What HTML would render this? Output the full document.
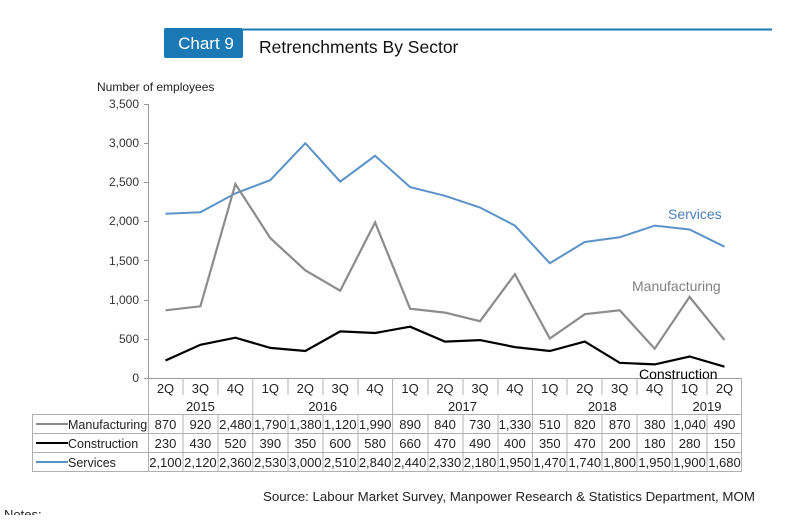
<!DOCTYPE html>
<html><head><style>
body{margin:0;background:#fff;width:800px;height:515px;overflow:hidden}
svg{font-family:"Liberation Sans",Arial,sans-serif}
</style></head><body>
<svg width="800" height="515" viewBox="0 0 800 515" xmlns="http://www.w3.org/2000/svg">
<line x1="243" y1="29.5" x2="772" y2="29.5" stroke="#1a78b4" stroke-width="2"/>
<rect x="164" y="28" width="79" height="30" rx="2" fill="#1a78b4"/>
<text x="206" y="49" font-size="17" fill="#fff" text-anchor="middle">Chart 9</text>
<text x="259" y="53" font-size="17.5" fill="#111">Retrenchments By Sector</text>
<text x="97" y="91" font-size="12" fill="#222">Number of employees</text>
<g font-size="12" fill="#333" text-anchor="end">
<text x="139" y="108">3,500</text><text x="139" y="147">3,000</text><text x="139" y="186">2,500</text>
<text x="139" y="225">2,000</text><text x="139" y="265">1,500</text><text x="139" y="304">1,000</text>
<text x="139" y="343">500</text><text x="139" y="382">0</text>
</g>
<g stroke="#999" stroke-width="1">
<line x1="148.5" y1="104" x2="148.5" y2="379"/>
<line x1="144" y1="104.5" x2="148" y2="104.5"/><line x1="144" y1="143.5" x2="148" y2="143.5"/>
<line x1="144" y1="182.5" x2="148" y2="182.5"/><line x1="144" y1="221.5" x2="148" y2="221.5"/>
<line x1="144" y1="260.5" x2="148" y2="260.5"/><line x1="144" y1="300.5" x2="148" y2="300.5"/>
<line x1="144" y1="339.5" x2="148" y2="339.5"/><line x1="144" y1="378.5" x2="742" y2="378.5"/>
</g>
<polyline fill="none" stroke="#5b93c9" stroke-width="2" points="165.5,213.8 200.4,212.2 235.4,193.4 270.3,180.1 305.3,143.2 340.2,181.6 375.1,155.8 410.1,187.1 445,195.8 480,207.5 514.9,225.6 549.8,263.2 584.8,242 619.7,237.3 654.7,225.6 689.6,229.5 724.5,246.7"/>
<polyline fill="none" stroke="#8c8c8c" stroke-width="2.2" points="165.5,310.3 200.4,306.3 235.4,184 270.3,238.1 305.3,270.3 340.2,290.7 375.1,222.4 410.1,308.7 445,312.6 480,321.2 514.9,274.2 549.8,338.5 584.8,314.2 619.7,310.3 654.7,348.7 689.6,296.9 724.5,340.1"/>
<polyline fill="none" stroke="#000" stroke-width="2.2" points="165.5,360.5 200.4,344.8 235.4,337.7 270.3,347.9 305.3,351 340.2,331.4 375.1,333 410.1,326.7 445,341.6 480,340.1 514.9,347.1 549.8,351 584.8,341.6 619.7,362.8 654.7,364.4 689.6,356.5 724.5,366.7"/>
<text x="668" y="219" font-size="14" fill="#4a7ebb">Services</text>
<text x="632" y="291" font-size="14" fill="#808080">Manufacturing</text>
<text x="639" y="379" font-size="14" fill="#000">Construction</text>
<g stroke="#b0b0b0" stroke-width="1" fill="none">
<rect x="32.5" y="414.5" width="709" height="57"/>
<line x1="32" y1="433.5" x2="742" y2="433.5"/><line x1="32" y1="452.5" x2="742" y2="452.5"/>
<line x1="148.5" y1="378" x2="148.5" y2="471"/>
<line x1="741.5" y1="378" x2="741.5" y2="471"/>
<line x1="252.8" y1="378" x2="252.8" y2="471"/><line x1="392.6" y1="378" x2="392.6" y2="471"/>
<line x1="532.4" y1="378" x2="532.4" y2="471"/><line x1="672.2" y1="378" x2="672.2" y2="471"/>
<line x1="183" y1="378" x2="183" y2="395"/><line x1="218" y1="378" x2="218" y2="395"/>
<line x1="288" y1="378" x2="288" y2="395"/><line x1="323" y1="378" x2="323" y2="395"/><line x1="358" y1="378" x2="358" y2="395"/>
<line x1="428" y1="378" x2="428" y2="395"/><line x1="463" y1="378" x2="463" y2="395"/><line x1="498" y1="378" x2="498" y2="395"/>
<line x1="567" y1="378" x2="567" y2="395"/><line x1="602" y1="378" x2="602" y2="395"/><line x1="637" y1="378" x2="637" y2="395"/>
<line x1="707" y1="378" x2="707" y2="395"/>
<line x1="183" y1="414" x2="183" y2="471"/><line x1="218" y1="414" x2="218" y2="471"/>
<line x1="288" y1="414" x2="288" y2="471"/><line x1="323" y1="414" x2="323" y2="471"/><line x1="358" y1="414" x2="358" y2="471"/>
<line x1="428" y1="414" x2="428" y2="471"/><line x1="463" y1="414" x2="463" y2="471"/><line x1="498" y1="414" x2="498" y2="471"/>
<line x1="567" y1="414" x2="567" y2="471"/><line x1="602" y1="414" x2="602" y2="471"/><line x1="637" y1="414" x2="637" y2="471"/>
<line x1="707" y1="414" x2="707" y2="471"/>
</g>
<g font-size="13" fill="#222" text-anchor="middle">
<text x="165.5" y="393">2Q</text><text x="200.4" y="393">3Q</text><text x="235.4" y="393">4Q</text>
<text x="270.3" y="393">1Q</text><text x="305.3" y="393">2Q</text><text x="340.2" y="393">3Q</text><text x="375.1" y="393">4Q</text>
<text x="410.1" y="393">1Q</text><text x="445" y="393">2Q</text><text x="480" y="393">3Q</text><text x="514.9" y="393">4Q</text>
<text x="549.8" y="393">1Q</text><text x="584.8" y="393">2Q</text><text x="619.7" y="393">3Q</text><text x="654.7" y="393">4Q</text>
<text x="689.6" y="393">1Q</text><text x="724.5" y="393">2Q</text>
<text x="200.4" y="411">2015</text><text x="322.7" y="411">2016</text><text x="462.5" y="411">2017</text>
<text x="602.3" y="411">2018</text><text x="707" y="411">2019</text>
<g>
<text x="165.5" y="429">870</text><text x="200.4" y="429">920</text><text x="235.4" y="429">2,480</text><text x="270.3" y="429">1,790</text><text x="305.3" y="429">1,380</text><text x="340.2" y="429">1,120</text><text x="375.1" y="429">1,990</text><text x="410.1" y="429">890</text><text x="445" y="429">840</text><text x="480" y="429">730</text><text x="514.9" y="429">1,330</text><text x="549.8" y="429">510</text><text x="584.8" y="429">820</text><text x="619.7" y="429">870</text><text x="654.7" y="429">380</text><text x="689.6" y="429">1,040</text><text x="724.5" y="429">490</text>
</g>
<g>
<text x="165.5" y="448">230</text><text x="200.4" y="448">430</text><text x="235.4" y="448">520</text><text x="270.3" y="448">390</text><text x="305.3" y="448">350</text><text x="340.2" y="448">600</text><text x="375.1" y="448">580</text><text x="410.1" y="448">660</text><text x="445" y="448">470</text><text x="480" y="448">490</text><text x="514.9" y="448">400</text><text x="549.8" y="448">350</text><text x="584.8" y="448">470</text><text x="619.7" y="448">200</text><text x="654.7" y="448">180</text><text x="689.6" y="448">280</text><text x="724.5" y="448">150</text>
</g>
<g>
<text x="165.5" y="467">2,100</text><text x="200.4" y="467">2,120</text><text x="235.4" y="467">2,360</text><text x="270.3" y="467">2,530</text><text x="305.3" y="467">3,000</text><text x="340.2" y="467">2,510</text><text x="375.1" y="467">2,840</text><text x="410.1" y="467">2,440</text><text x="445" y="467">2,330</text><text x="480" y="467">2,180</text><text x="514.9" y="467">1,950</text><text x="549.8" y="467">1,470</text><text x="584.8" y="467">1,740</text><text x="619.7" y="467">1,800</text><text x="654.7" y="467">1,950</text><text x="689.6" y="467">1,900</text><text x="724.5" y="467">1,680</text>
</g>
</g>
<line x1="36" y1="424" x2="68" y2="424" stroke="#8c8c8c" stroke-width="2"/>
<line x1="36" y1="443" x2="68" y2="443" stroke="#000" stroke-width="2"/>
<line x1="36" y1="462" x2="68" y2="462" stroke="#5b93c9" stroke-width="2"/>
<g font-size="12.5" fill="#222">
<text x="68" y="429">Manufacturing</text>
<text x="68" y="448">Construction</text>
<text x="68" y="467">Services</text>
</g>
<text x="263" y="501" font-size="13.3" fill="#222">Source: Labour Market Survey, Manpower Research &amp; Statistics Department, MOM</text>
<text x="4" y="519" font-size="13" fill="#222">Notes:</text>
</svg>
</body></html>
